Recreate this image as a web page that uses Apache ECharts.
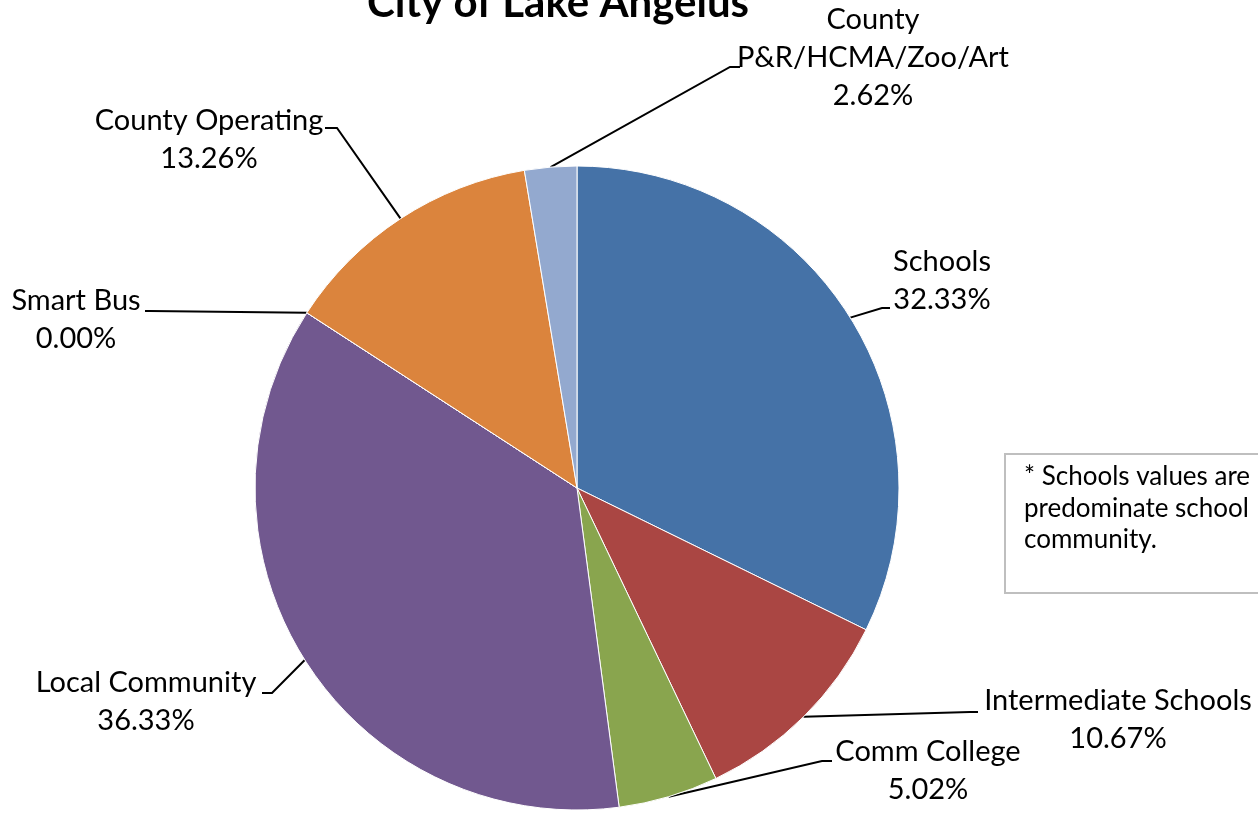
<!DOCTYPE html>
<html>
<head>
<meta charset="utf-8">
<script src="https://cdn.jsdelivr.net/npm/echarts@6/dist/echarts.min.js"></script>
<style>html,body{margin:0;padding:0;background:#fff;}#c{width:1258px;height:813px;}</style>
</head>
<body>
<div id="c"></div>
<script>
const title = 'City of Lake Angelus';
const categories = ['Schools', 'Intermediate Schools', 'Comm College', 'Local Community', 'Smart Bus', 'County Operating', 'County\nP&R/HCMA/Zoo/Art'];
const values = [32.33, 10.67, 5.02, 36.33, 0.00, 13.26, 2.62];
const colors = ['#4572A7', '#AA4643', '#89A54E', '#71588F', '#4198AF', '#DB843D', '#93A9CF'];
const noteLines = ['* Schools values are', 'predominate school', 'community.'];

// label layout (positions only)
const labelPos = [
  {x: 942, y: 281, line: [[882, 308], [890, 308]]},
  {x: 1118, y: 720, line: [[970, 712], [978, 712]]},
  {x: 928, y: 771, line: [[822, 761], [832, 761]]},
  {x: 146, y: 702, line: [[272, 693], [262, 693]]},
  {x: 76, y: 320, line: [[150, 311], [145, 311]]},
  {x: 209, y: 140, line: [[337, 128], [325, 128]]},
  {x: 873, y: 58, line: [[730, 67], [740, 67]]}
];

const FONT = 'Lato, "Open Sans", sans-serif';
const chart = echarts.init(document.getElementById('c'), null, {renderer: 'canvas'});
chart.setOption({
  animation: false,
  backgroundColor: '#fff',
  color: colors,
  graphic: [
    {type: 'text', x: 558, y: 24, style: {text: title, font: 'bold 42px ' + FONT, fill: '#000', align: 'center', verticalAlign: 'bottom'}},
    {type: 'rect', shape: {x: 1005, y: 454, width: 300, height: 139}, style: {fill: '#fff', stroke: '#bfbfbf', lineWidth: 2}},
    {type: 'text', x: 1024, y: 461, style: {text: noteLines.join('\n'), font: '26px ' + FONT, lineHeight: 31.5, fill: '#000'}}
  ],
  series: [{
    type: 'pie',
    center: [577, 488],
    radius: 322,
    startAngle: 90,
    clockwise: true,
    avoidLabelOverlap: false,
    itemStyle: {borderColor: '#ffffff', borderWidth: 1},
    emphasis: {disabled: true},
    data: categories.map((c, i) => ({name: c, value: values[i]})),
    label: {
      show: true,
      position: 'outside',
      formatter: p => p.name + '\n' + values[p.dataIndex].toFixed(2) + '%',
      fontFamily: FONT,
      fontSize: 29,
      lineHeight: 38,
      color: '#000',
      align: 'center'
    },
    labelLine: {show: true, length: 10, length2: 10, lineStyle: {color: '#000', width: 2}},
    labelLayout: function (params) {
      const lp = labelPos[params.dataIndex];
      const p0 = params.labelLinePoints ? params.labelLinePoints[0] : lp.line[0];
      return {
        x: lp.x, y: lp.y, align: 'center', verticalAlign: 'middle',
        labelLinePoints: [p0, lp.line[0], lp.line[1]]
      };
    }
  }]
});
</script>
</body>
</html>
